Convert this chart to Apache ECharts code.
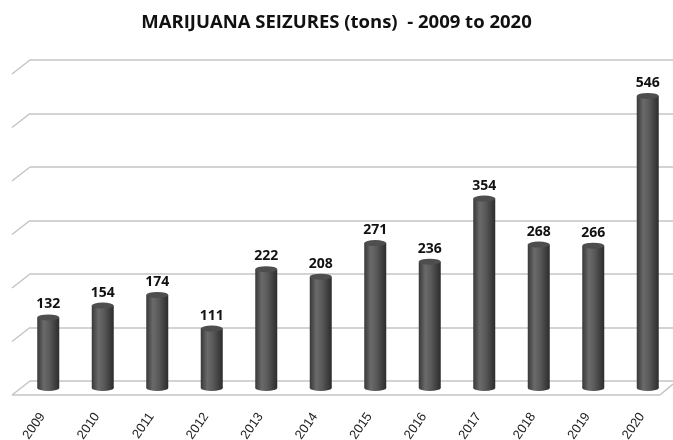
<!DOCTYPE html>
<html>
<head>
<meta charset="utf-8">
<script src="https://cdn.jsdelivr.net/npm/echarts@6/dist/echarts.min.js"></script>
<style>
html,body{margin:0;padding:0;background:#fff;}
#c{width:673px;height:440px;}
</style>
</head>
<body>
<div id="c"></div>
<script>
var years = ['2009','2010','2011','2012','2013','2014','2015','2016','2017','2018','2019','2020'];
var seizures = [132,154,174,111,222,208,271,236,354,268,266,546];
var axisMax = 600;
var axisStep = 100;

var chart = echarts.init(document.getElementById('c'), null, {renderer:'canvas'});
var cyl = new echarts.graphic.LinearGradient(0,0,1,0,[
  {offset:0,color:'#383838'},
  {offset:0.3,color:'#6a6a6a'},
  {offset:0.55,color:'#5a5a5a'},
  {offset:1,color:'#2c2c2c'}
]);
var gridColor = '#c4c4c4';
var option = {
  backgroundColor:'#fff',
  animation:false,
  title:{
    text:'MARIJUANA SEIZURES (tons)  - 2009 to 2020',
    left:'center', top:8,
    textStyle:{fontFamily:'Open Sans', fontWeight:'bold', fontSize:18.5, color:'#111'}
  },
  grid:[
    {left:30, right:0, top:60, height:321, containLabel:false, outerBoundsMode:'none'},
    {left:21, width:654, top:67, height:321, containLabel:false, outerBoundsMode:'none'}
  ],
  xAxis:[
    {gridIndex:0, type:'category', data:years, show:false},
    {gridIndex:1, type:'category', data:years,
     axisLine:{show:false}, axisTick:{show:false},
     axisLabel:{rotate:55, fontFamily:'Liberation Sans', fontSize:13, color:'#222', margin:18,
                padding:[0,10,0,0]}}
  ],
  yAxis:[
    {gridIndex:0, type:'value', min:0, max:axisMax, interval:axisStep,
     axisLabel:{show:false}, axisLine:{show:false}, axisTick:{show:false},
     splitLine:{lineStyle:{color:gridColor, width:1.5}}},
    {gridIndex:1, type:'value', min:0, max:axisMax, interval:axisStep, show:false,
     splitLine:{show:false}}
  ],
  series:[
    {type:'bar', xAxisIndex:1, yAxisIndex:1, data:seizures, barWidth:22,
     itemStyle:{color:cyl},
     label:{show:true, position:'top', distance:6, fontFamily:'Open Sans', fontWeight:'bold', fontSize:14, color:'#111'}},
    {type:'pictorialBar', xAxisIndex:1, yAxisIndex:1, data:seizures, symbol:'circle',
     symbolSize:[22,6], symbolPosition:'end', symbolOffset:[0,'-50%'], z:3,
     itemStyle:{color:'#4e4e4e'}},
    {type:'pictorialBar', xAxisIndex:1, yAxisIndex:1, data:seizures, symbol:'circle',
     symbolSize:[22,6], symbolPosition:'start', symbolOffset:[0,'50%'], z:1,
     itemStyle:{color:cyl}}
  ]
};
chart.setOption(option);

// 3D wall decorations derived from axis pixel positions
var g = [];
var dx = -18, dy = 14;
for (var v = axisStep; v <= axisMax; v += axisStep) {
  var py = chart.convertToPixel({yAxisIndex:0}, v);
  g.push({type:'line', shape:{x1:30, y1:py, x2:30+dx, y2:py+dy}, style:{stroke:gridColor, lineWidth:1.5}, silent:true});
}
var by = chart.convertToPixel({yAxisIndex:0}, 0);
g.push({type:'line', shape:{x1:30, y1:by, x2:30+dx, y2:by+dy}, style:{stroke:gridColor, lineWidth:1.5}, silent:true});
g.push({type:'line', shape:{x1:30+dx, y1:by+dy, x2:660, y2:by+dy}, style:{stroke:gridColor, lineWidth:1.5}, silent:true});
g.push({type:'line', shape:{x1:660, y1:by+dy, x2:673, y2:by+3}, style:{stroke:gridColor, lineWidth:1.5}, silent:true});
chart.setOption({graphic:g});
</script>
</body>
</html>
